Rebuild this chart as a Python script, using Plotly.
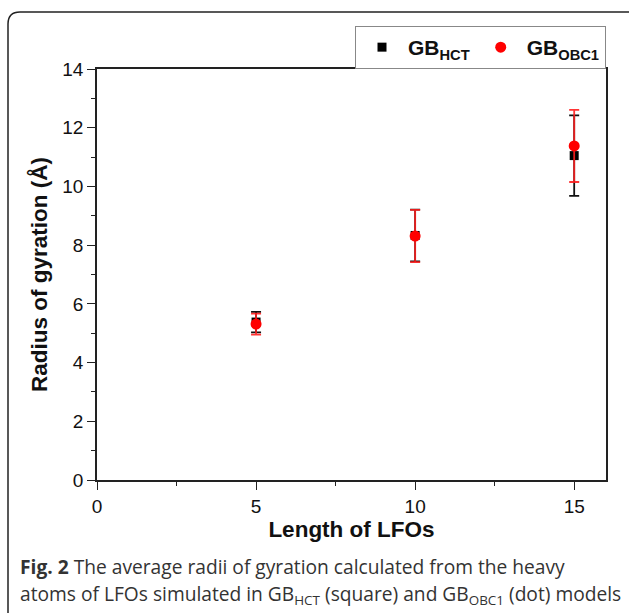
import plotly.graph_objects as go

# ---- data ----
lengths = [5, 10, 15]
hct_rg = [5.38, 8.33, 11.05]
hct_err = [0.35, 0.88, 1.37]
obc_rg = [5.31, 8.31, 11.38]
obc_err = [0.36, 0.89, 1.23]
x_ticks = [0, 5, 10, 15]
y_ticks = [0, 2, 4, 6, 8, 10, 12, 14]

W, H = 629, 613
ML, MR, MT, MB = 97, 23, 69, 133
PW, PH = W - ML - MR, H - MT - MB

def px_x(px):
    return (px - ML) / PW

def px_y(py):
    return (H - MB - py) / PH

font_chart = "Liberation Sans"

fig = go.Figure()
fig.add_trace(go.Scatter(
    x=lengths, y=hct_rg, mode="markers", name="<b>GB<sub>HCT</sub></b>",
    marker=dict(symbol="square", size=9, color="black"),
    error_y=dict(type="data", array=hct_err, color="#111", thickness=1.8, width=5),
))
fig.add_trace(go.Scatter(
    x=lengths, y=obc_rg, mode="markers", name="<b>GB<sub>OBC1</sub></b>",
    marker=dict(symbol="circle", size=11, color="red"),
    error_y=dict(type="data", array=obc_err, color="rgba(255,30,30,0.9)", thickness=1.8, width=5),
))

axis_common = dict(
    showline=True, linecolor="#222", linewidth=1.5, mirror=True,
    ticks="outside", ticklen=8, tickwidth=1.3, tickcolor="#222",
    showgrid=False, zeroline=False,
    tickfont=dict(family=font_chart, size=19, color="#111"),
)
fig.update_xaxes(
    range=[0, 16], tickvals=x_ticks,
    minor=dict(ticks="outside", ticklen=4, tickwidth=1.3, tickcolor="#222", dtick=2.5, tick0=0),
    title=dict(text="<b>Length of LFOs</b>", font=dict(family=font_chart, size=22.5, color="#111"), standoff=5),
    **axis_common,
)
fig.update_yaxes(
    range=[0, 14], tickvals=y_ticks,
    minor=dict(ticks="outside", ticklen=4, tickwidth=1.3, tickcolor="#222", dtick=1, tick0=0),
    title=dict(text="<b>Radius of gyration (Å)</b>", font=dict(family=font_chart, size=22.5, color="#111"), standoff=8),
    **axis_common,
)

# rounded card border
r = 12
x0, y0, x1, y1 = 8, 12, 645, 640
path = (f"M {px_x(x0)},{px_y(y1)} L {px_x(x0)},{px_y(y0 + r)} "
        f"Q {px_x(x0)},{px_y(y0)} {px_x(x0 + r)},{px_y(y0)} "
        f"L {px_x(x1)},{px_y(y0)}")
fig.add_shape(type="path", path=path, xref="paper", yref="paper",
              line=dict(color="#222", width=1.5), layer="above")

caption_lines = [
    "<b>Fig. 2</b> The average radii of gyration calculated from the heavy",
    "atoms of LFOs simulated in GB<sub>HCT</sub> (square) and GB<sub>OBC1</sub> (dot) models",
]
caption_y = [566, 594]
for line, cy in zip(caption_lines, caption_y):
    fig.add_annotation(text=line, xref="paper", yref="paper",
                       x=px_x(18), y=px_y(cy), xanchor="left", yanchor="middle",
                       align="left", showarrow=False,
                       font=dict(family="Open Sans", size=19.2, color="#333"))

fig.update_layout(
    width=W, height=H,
    margin=dict(l=ML, r=MR, t=MT, b=MB),
    plot_bgcolor="white", paper_bgcolor="white",
    showlegend=True,
    legend=dict(
        orientation="h", x=1.0, y=px_y(26), xanchor="right", yanchor="top",
        bgcolor="white", bordercolor="#888", borderwidth=1,
        font=dict(family=font_chart, size=21, color="#111"),
        itemwidth=42,
    ),
)

fig.write_html("out.html", config={"displayModeBar": False},
               post_script="document.body.style.margin='0';")
